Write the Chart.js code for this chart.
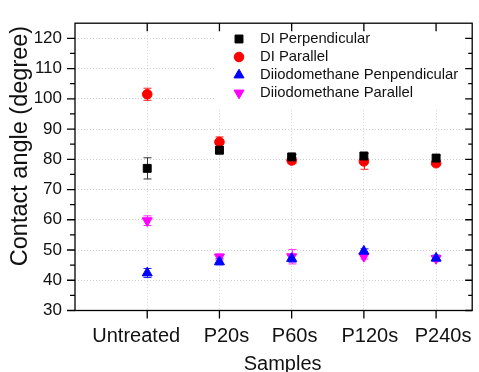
<!DOCTYPE html>
<html>
<head>
<meta charset="utf-8">
<script src="https://cdn.jsdelivr.net/npm/chart.js@4/dist/chart.umd.min.js"></script>
<style>
  html, body { margin: 0; padding: 0; background: #fff; }
  #wrap { width: 479px; height: 372px; }
</style>
</head>
<body>
<div id="wrap"><canvas id="chart" width="479" height="372"></canvas></div>
<script>
// Sample names sit at x = 1..5 on a linear axis
const samples = ['Untreated', 'P20s', 'P60s', 'P120s', 'P240s'];
const samplePos = [1, 2, 3, 4, 5];

const diPerp = [77.0, 83.0, 80.8, 81.1, 80.4];
const diPerpErr = [3.5, 1.0, 0.8, 0.9, 0.9];
const diPar = [101.5, 85.7, 79.6, 79.3, 78.7];
const diParErr = [2.0, 1.7, 1.0, 2.6, 0.8];
const diioPerp = [42.4, 46.1, 47.2, 49.6, 47.3];
const diioPerpErr = [1.5, 1.0, 1.2, 0.8, 1.0];
const diioPar = [59.7, 47.7, 47.8, 47.9, 47.2];
const diioParErr = [1.6, 1.0, 2.4, 0.9, 0.8];

const yTicks = [30, 35, 40, 45, 50, 55, 60, 65, 70, 75, 80, 85, 90, 95, 100, 105, 110, 115, 120];

const FONT = '"Liberation Sans", Arial, sans-serif';
const TEXT = '#111';

function points(values) {
  return values.map((v, i) => ({ x: samplePos[i], y: v }));
}

const series = [
  { label: 'DI Perpendicular', values: diPerp, err: diPerpErr, color: '#000000', barColor: '#333333', style: 'rect', radius: 5.6, rotation: 0 },
  { label: 'DI Parallel', values: diPar, err: diParErr, color: '#ff0000', barColor: '#ff2020', style: 'circle', radius: 4.8, rotation: 0 },
  { label: 'Diiodomethane Penpendicular', values: diioPerp, err: diioPerpErr, color: '#0000ff', barColor: '#2020ff', style: 'triangle', radius: 5.8, rotation: 0 },
  { label: 'Diiodomethane Parallel', values: diioPar, err: diioParErr, color: '#ff00ff', barColor: '#ff30ff', style: 'triangle', radius: 5.8, rotation: 180 },
];

// vertical error bars with caps, drawn under the markers
const errorBars = {
  id: 'errorBars',
  beforeDatasetsDraw(chart) {
    const { ctx, scales: { x, y } } = chart;
    ctx.save();
    ctx.lineWidth = 1;
    series.forEach((s) => {
      ctx.strokeStyle = s.barColor;
      s.values.forEach((v, i) => {
        const px = Math.round(x.getPixelForValue(samplePos[i])) + 0.5;
        const top = y.getPixelForValue(v + s.err[i]);
        const bot = y.getPixelForValue(v - s.err[i]);
        ctx.beginPath();
        ctx.moveTo(px, top); ctx.lineTo(px, bot);
        ctx.moveTo(px - 4, top); ctx.lineTo(px + 4, top);
        ctx.moveTo(px - 4, bot); ctx.lineTo(px + 4, bot);
        ctx.stroke();
      });
    });
    ctx.restore();
  },
};

// box frame: left/bottom ticks outward, top/right ticks inward,
// plus the category labels and axis titles (the original sets them slightly off-centre)
const labelNudge = [-11, 7, 3, 6, 7];
const frame = {
  id: 'frame',
  afterDraw(chart) {
    const { ctx, chartArea: a, scales: { x, y } } = chart;
    ctx.save();
    ctx.strokeStyle = '#000';
    ctx.lineWidth = 1.3;
    ctx.strokeRect(a.left, a.top, a.right - a.left, a.bottom - a.top);
    ctx.beginPath();
    yTicks.forEach((v) => {
      const py = y.getPixelForValue(v);
      const major = v % 10 === 0;
      ctx.moveTo(a.left - (major ? 8 : 5), py); ctx.lineTo(a.left, py);
      ctx.moveTo(a.right, py); ctx.lineTo(a.right - (major ? 7 : 4), py);
    });
    samplePos.forEach((v) => {
      const px = x.getPixelForValue(v);
      ctx.moveTo(px, a.bottom); ctx.lineTo(px, a.bottom + 8);
      ctx.moveTo(px, a.top); ctx.lineTo(px, a.top + 8);
    });
    ctx.stroke();

    ctx.fillStyle = TEXT;
    ctx.textAlign = 'center';
    ctx.textBaseline = 'alphabetic';
    ctx.font = '20px ' + FONT;
    samples.forEach((name, i) => {
      ctx.fillText(name, x.getPixelForValue(samplePos[i]) + labelNudge[i], a.bottom + 31);
    });
    ctx.fillText('Samples', (a.left + a.right) / 2 + 9, a.bottom + 59);

    ctx.font = '23.5px ' + FONT;
    ctx.textBaseline = 'middle';
    ctx.translate(21, 146);
    ctx.rotate(-Math.PI / 2);
    ctx.fillText('Contact angle (degree)', 0, 0);
    ctx.restore();
  },
};

// legend inside the plot, on a white box that hides the grid
const innerLegend = {
  id: 'innerLegend',
  afterDatasetsDraw(chart) {
    const { ctx, chartArea: a } = chart;
    ctx.save();
    ctx.fillStyle = '#fff';
    ctx.fillRect(215, a.top + 1, 248, 85);
    ctx.font = '14.8px ' + FONT;
    ctx.textBaseline = 'middle';
    series.forEach((s, i) => {
      const cy = 39 + i * 18;
      ctx.fillStyle = s.color;
      ctx.strokeStyle = s.color;
      Chart.helpers.drawPoint(ctx, { pointStyle: s.style, radius: s.radius, rotation: s.rotation, borderWidth: 1 }, 239, cy);
      ctx.fillStyle = TEXT;
      ctx.fillText(s.label, 260, cy);
    });
    ctx.restore();
  },
};

new Chart(document.getElementById('chart'), {
  type: 'scatter',
  data: {
    datasets: series.map((s) => ({
      label: s.label,
      data: points(s.values),
      pointStyle: s.style,
      pointRadius: s.radius,
      pointHoverRadius: s.radius,
      pointRotation: s.rotation,
      backgroundColor: s.color,
      borderColor: s.color,
      borderWidth: 1,
    })),
  },
  options: {
    responsive: false,
    animation: false,
    layout: { padding: { left: 0, top: 16, right: 2, bottom: 0 } },
    plugins: { legend: { display: false }, tooltip: { enabled: false } },
    scales: {
      x: {
        type: 'linear',
        min: 0,
        max: 5.5,
        afterBuildTicks(scale) { scale.ticks = samplePos.map((v) => ({ value: v })); },
        afterFit(scale) { scale.height = 61.5; },
        border: { display: false, dash: [1, 2] },
        grid: { color: '#cfcfcf', drawTicks: false },
        ticks: { display: false },
      },
      y: {
        min: 30,
        max: 125,
        afterBuildTicks(scale) { scale.ticks = yTicks.map((v) => ({ value: v })); },
        afterFit(scale) { scale.width = 75; },
        border: { display: false, dash: [1, 2] },
        grid: { color: '#cfcfcf', drawTicks: false },
        ticks: {
          padding: 13,
          color: TEXT,
          font: { family: FONT, size: 17 },
          callback: (v) => (v % 10 === 0 ? String(v) : ''),
        },
      },
    },
  },
  plugins: [errorBars, innerLegend, frame],
});
</script>
</body>
</html>
